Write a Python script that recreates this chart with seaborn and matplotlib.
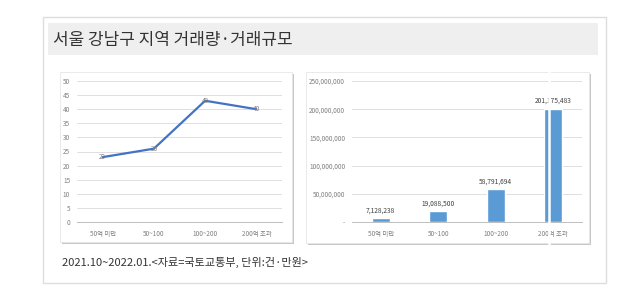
import matplotlib
matplotlib.use("Agg")
import matplotlib.pyplot as plt
import seaborn as sns
import pandas as pd
from matplotlib.patches import Rectangle
from matplotlib.lines import Line2D
from matplotlib.ticker import FuncFormatter, FixedLocator

sns.set_theme(style="white")
plt.rcParams['font.family'] = ['Noto Sans CJK KR', 'DejaVu Sans']

categories = ["50억 미만", "50~100", "100~200", "200억 초과"]
counts = [23, 26, 43, 40]
amounts = [7128238, 19088500, 58791694, 201175483]
amount_labels = ["7,128,238", "19,088,500", "58,791,694", "201,175,483"]

title = "서울 강남구 지역 거래량·거래규모"
caption = "2021.10~2022.01.<자료=국토교통부, 단위:건·만원>"

W, H = 630, 297
fig = plt.figure(figsize=(W / 100, H / 100), dpi=100)
fig.patch.set_facecolor("white")

def rect(x0, y0, x1, y1, **kw):
    r = Rectangle((x0 / W, 1 - y1 / H), (x1 - x0) / W, (y1 - y0) / H,
                  transform=fig.transFigure, zorder=-10, **kw)
    fig.patches.append(r)
    return r

def ax_at(x0, y0, x1, y1):
    return fig.add_axes([x0 / W, 1 - y1 / H, (x1 - x0) / W, (y1 - y0) / H])

# outer border
rect(43, 17, 606, 283, facecolor="white", edgecolor="#dddddd", linewidth=1)
# title banner
rect(48, 23, 598, 55, facecolor="#efefef", edgecolor="none")
fig.text(53 / W, 1 - 40 / H, title, fontsize=12.2, color="#333333", va="center", ha="left")

# panels with shadow
for (x0, y0, x1, y1) in [(60, 72, 292, 242), (306, 72, 589, 243)]:
    rect(x0 + 2, y0 + 2, x1 + 2, y1 + 2, facecolor="#c8c8c8", edgecolor="none")
    rect(x0, y0, x1, y1, facecolor="white", edgecolor="#e6e6e6", linewidth=0.6)

tick_color = "#7f7f7f"
grid_color = "#d9d9d9"

# left line chart
df1 = pd.DataFrame({"x": range(len(categories)), "v": counts})
ax1 = ax_at(77, 81, 282, 222)
ax1.set_facecolor("none")
sns.lineplot(data=df1, x="x", y="v", ax=ax1, color="#4472C4", linewidth=1.6)
ax1.set_xlim(-0.5, 3.5)
ax1.set_ylim(0, 50)
ax1.set_yticks(range(0, 51, 5))
ax1.set_xticks(range(len(categories)))
ax1.set_xticklabels(categories)
for i, v in enumerate(counts):
    ax1.text(i, v, str(v), fontsize=4.6, color="#7f7f7f", ha="center", va="center")

# right bar chart
df2 = pd.DataFrame({"cat": categories, "v": amounts})
ax2 = ax_at(352, 81, 582, 222)
ax2.set_facecolor("none")
sns.barplot(data=df2, x="cat", y="v", ax=ax2, color="#5B9BD5", width=0.32, saturation=1)
ax2.set_xlim(-0.5, 3.5)
ax2.set_ylim(0, 250000000)
ax2.set_yticks(range(0, 250000001, 50000000))
ax2.yaxis.set_major_formatter(FuncFormatter(lambda v, p: "-" if v == 0 else f"{int(v):,}"))
for i, (v, lab) in enumerate(zip(amounts, amount_labels)):
    ax2.text(i, v + 6000000, lab, fontsize=4.8, color="#404040", ha="center", va="bottom")

for ax in (ax1, ax2):
    ax.set_xlabel("")
    ax.set_ylabel("")
    ax.grid(axis="y", color=grid_color, linewidth=0.6)
    ax.set_axisbelow(True)
    for s in ("left", "right", "top"):
        ax.spines[s].set_visible(False)
    ax.spines["bottom"].set_color("#bfbfbf")
    ax.spines["bottom"].set_linewidth(0.7)
    ax.tick_params(axis="both", labelsize=4.6, colors=tick_color, length=0, pad=5)
    ax.tick_params(axis="x", pad=6)

# category boundary ticks on left chart
ax1.xaxis.set_minor_locator(FixedLocator([-0.5, 0.5, 1.5, 2.5, 3.5]))
ax1.tick_params(axis="x", which="minor", length=3, width=0.6, color="#bfbfbf", direction="out")

# white artifact line through right chart
fig.lines.append(Line2D([549 / W, 549 / W], [1 - 70 / H, 1 - 246 / H],
                        transform=fig.transFigure, color="white", linewidth=1.8, zorder=5))

fig.text(62 / W, 1 - 262 / H, caption, fontsize=8, color="#333333", va="center", ha="left")

fig.savefig("out.png", dpi=100, facecolor="white")
